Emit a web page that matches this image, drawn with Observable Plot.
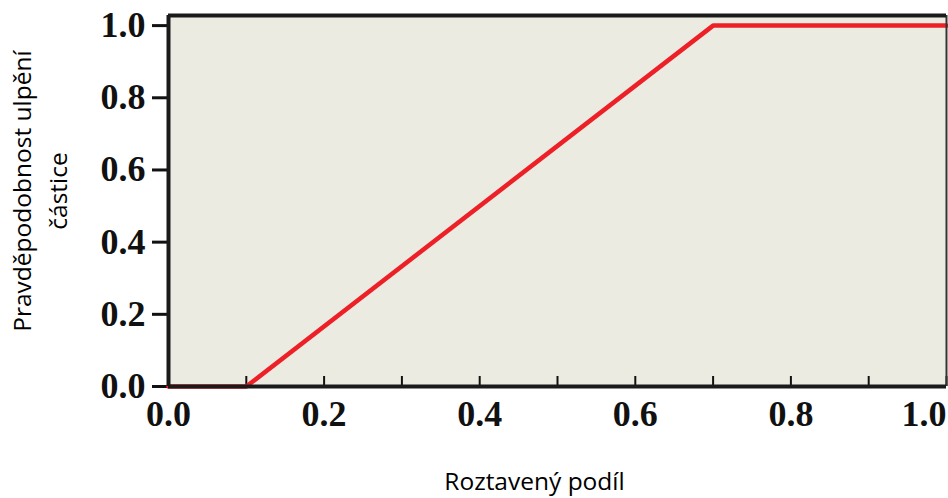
<!DOCTYPE html>
<html>
<head>
<meta charset="utf-8">
<script src="https://cdn.jsdelivr.net/npm/d3@7"></script>
<script src="https://cdn.jsdelivr.net/npm/@observablehq/plot@0.6"></script>
<style>
  html, body { margin: 0; padding: 0; background: #fff; }
  svg { display: block; }
</style>
</head>
<body>
<div id="chart"></div>
<script>
// Data
const meltFraction = [0.0, 0.1, 0.7, 1.0];
const stickProbability = [0.0, 0.0, 1.0, 1.0];

const xTicks = [0.0, 0.1, 0.2, 0.3, 0.4, 0.5, 0.6, 0.7, 0.8, 0.9, 1.0];
const xLabelTicks = [0.0, 0.2, 0.4, 0.6, 0.8];
const xLastLabel = [1.0];
const yTicks = [0.0, 0.2, 0.4, 0.6, 0.8, 1.0];

const xTitle = "Roztavený podíl";
const yTitle = "Pravděpodobnost ulpění\nčástice";

const data = meltFraction.map((x, i) => ({x, y: stickProbability[i]}));
const yMax = 1.028;

const serif = "'Liberation Serif', 'Times New Roman', serif";
const sans = "'Open Sans', 'Noto Sans', sans-serif";
const fmt = d3.format(".1f");

const W = 948, ML = 168, MR = 2;
const xTitleDx = 534 - (ML + (W - MR - ML) / 2);

const chart = Plot.plot({
  width: W,
  height: 498,
  marginLeft: ML,
  marginRight: MR,
  marginTop: 15,
  marginBottom: 112,
  x: {domain: [0, 1]},
  y: {domain: [0, yMax]},
  style: {background: "#fff", overflow: "visible"},
  marks: [
    Plot.frame({fill: "#ebebe2", stroke: null}),
    // y axis (outward ticks, bold serif labels)
    Plot.axisY({
      ticks: yTicks, tickSize: 16, tickPadding: 7, tickFormat: fmt,
      strokeWidth: 3, stroke: "#111",
      fontFamily: serif, fontWeight: "bold", fontSize: 36, fill: "#111",
      label: null
    }),
    // x axis labels
    Plot.axisX({
      ticks: xLabelTicks, tickSize: 0, tickPadding: 14, tickFormat: fmt,
      fontFamily: serif, fontWeight: "bold", fontSize: 36, fill: "#111",
      label: null
    }),
    Plot.axisX({
      ticks: xLastLabel, tickSize: 0, tickPadding: 14, tickFormat: fmt, textAnchor: "end",
      fontFamily: serif, fontWeight: "bold", fontSize: 36, fill: "#111",
      label: null
    }),
    // inward x ticks
    Plot.ruleX(xTicks, {y1: 0, y2: 0, insetTop: -10, stroke: "#111", strokeWidth: 2}),
    // red line
    Plot.line(data, {x: "x", y: "y", stroke: "#ee2027", strokeWidth: 4.5, strokeLinejoin: "round"}),
    // border
    Plot.ruleX([1], {stroke: "#333", strokeWidth: 2}),
    Plot.ruleY([yMax], {stroke: "#1a1a1a", strokeWidth: 4}),
    Plot.ruleX([0], {stroke: "#1a1a1a", strokeWidth: 4}),
    Plot.ruleY([0], {stroke: "#1a1a1a", strokeWidth: 4}),
    // titles
    Plot.text([xTitle], {frameAnchor: "bottom", dy: 103, dx: xTitleDx, text: d => d,
      textAnchor: "middle", fontFamily: sans, fontSize: 24.5, fill: "#000", lineAnchor: "bottom"}),
    Plot.text([yTitle], {frameAnchor: "left", dx: -131, dy: -10, rotate: -90, text: d => d,
      textAnchor: "middle", fontFamily: sans, fontSize: 24.5, fill: "#000", lineHeight: 1.45, lineAnchor: "middle"})
  ]
});

document.getElementById("chart").appendChild(chart);
</script>
</body>
</html>
